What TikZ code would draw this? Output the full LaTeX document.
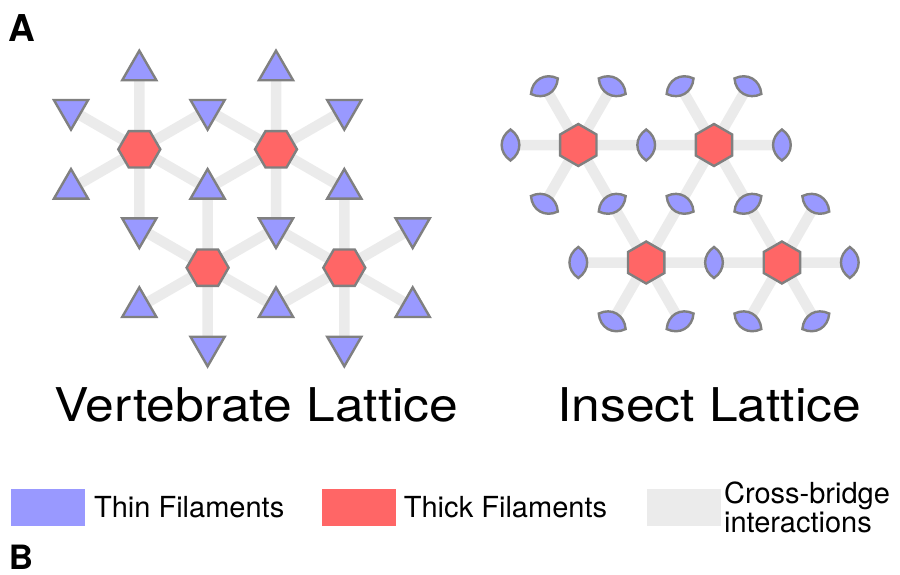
\documentclass[tikz,border=0pt]{standalone}
\usepackage{fontspec}
\setmainfont{TeX Gyre Heros}
\usepackage{graphicx}
\usepackage{tikz}
\usetikzlibrary{shapes.geometric, positioning, backgrounds}

\definecolor{thinblue}{HTML}{9999FF}
\definecolor{thickred}{HTML}{FF6666}
\definecolor{bridgegray}{HTML}{EBEBEB}
\definecolor{edgegray}{HTML}{808080}

\begin{document}
\begin{tikzpicture}[
    x=1pt, y=-1pt,
    thickfil/.style={regular polygon, regular polygon sides=6, draw=edgegray, fill=thickred, line width=2.4pt, minimum size=42pt, inner sep=0pt},
    thinup/.style={regular polygon, regular polygon sides=3, draw=edgegray, fill=thinblue, line width=2.4pt, minimum size=39.5pt, inner sep=0pt},
    thindown/.style={thinup, shape border rotate=180},
    bridge/.style={draw=bridgegray, line width=10.5pt},
    lens/.pic={\draw[draw=edgegray, fill=thinblue, line width=2.4pt] (0,-15.5) .. controls (11.8,-7.5) and (11.8,7.5) .. (0,15.5) .. controls (-11.8,7.5) and (-11.8,-7.5) .. (0,-15.5) -- cycle;},
    legbox/.style={minimum width=74pt, minimum height=36.7pt, inner sep=0pt},
    legtext/.style={inner sep=0pt, align=left, font=\fontsize{29}{28.4}\selectfont},
    title/.style={anchor=base, inner sep=0pt, font=\fontsize{46.5}{50}\selectfont},
    panel/.style={anchor=base west, inner sep=0pt}
]
    \useasboundingbox (0,0) rectangle (900,574);

    % Lettres des panneaux
    \node[panel, font=\fontsize{37}{40}\bfseries] (panela) at (8,41.7) {A};
    \node[panel, font=\fontsize{33.5}{36}\bfseries] (panelb) at (8.6,569.5) {B};

    % Réseau vertébré : filaments épais
    \node[thickfil] (vthick1) at (139.3,149.3) {};
    \node[thickfil] (vthick2) at (276.0,149.3) {};
    \node[thickfil] (vthick3) at (207.6,267.7) {};
    \node[thickfil] (vthick4) at (344.3,267.7) {};

    % Réseau vertébré : filaments fins
    \node[thinup]   (vthin1)  at (139.3,70.4) {};
    \node[thinup]   (vthin2)  at (276.0,70.4) {};
    \node[thindown] (vthin3)  at (71.0,109.9) {};
    \node[thindown] (vthin4)  at (207.6,109.9) {};
    \node[thindown] (vthin5)  at (344.3,109.9) {};
    \node[thinup]   (vthin6)  at (71.0,188.8) {};
    \node[thinup]   (vthin7)  at (207.6,188.8) {};
    \node[thinup]   (vthin8)  at (344.3,188.8) {};
    \node[thindown] (vthin9)  at (139.3,228.2) {};
    \node[thindown] (vthin10) at (276.0,228.2) {};
    \node[thindown] (vthin11) at (412.7,228.2) {};
    \node[thinup]   (vthin12) at (139.3,307.1) {};
    \node[thinup]   (vthin13) at (276.0,307.1) {};
    \node[thinup]   (vthin14) at (412.7,307.1) {};
    \node[thindown] (vthin15) at (207.6,346.6) {};
    \node[thindown] (vthin16) at (344.3,346.6) {};

    % Réseau vertébré : ponts
    \begin{scope}[on background layer]
        \draw[bridge] (vthick1.center) -- (vthin1.center) (vthick1.center) -- (vthin4.center) (vthick1.center) -- (vthin7.center)
                      (vthick1.center) -- (vthin9.center) (vthick1.center) -- (vthin6.center) (vthick1.center) -- (vthin3.center);
        \draw[bridge] (vthick2.center) -- (vthin2.center) (vthick2.center) -- (vthin5.center) (vthick2.center) -- (vthin8.center)
                      (vthick2.center) -- (vthin10.center) (vthick2.center) -- (vthin7.center) (vthick2.center) -- (vthin4.center);
        \draw[bridge] (vthick3.center) -- (vthin7.center) (vthick3.center) -- (vthin10.center) (vthick3.center) -- (vthin13.center)
                      (vthick3.center) -- (vthin15.center) (vthick3.center) -- (vthin12.center) (vthick3.center) -- (vthin9.center);
        \draw[bridge] (vthick4.center) -- (vthin8.center) (vthick4.center) -- (vthin11.center) (vthick4.center) -- (vthin14.center)
                      (vthick4.center) -- (vthin16.center) (vthick4.center) -- (vthin13.center) (vthick4.center) -- (vthin10.center);
    \end{scope}

    % Réseau insecte : filaments épais
    \node[thickfil, shape border rotate=30] (ithick1) at (578.3,145.0) {};
    \node[thickfil, shape border rotate=30] (ithick2) at (714.0,145.0) {};
    \node[thickfil, shape border rotate=30] (ithick3) at (646.2,262.5) {};
    \node[thickfil, shape border rotate=30] (ithick4) at (781.9,262.5) {};

    % Réseau insecte : positions des filaments fins
    \coordinate (ithin1)  at (544.4,86.2);
    \coordinate (ithin2)  at (612.2,86.2);
    \coordinate (ithin3)  at (680.1,86.2);
    \coordinate (ithin4)  at (747.9,86.2);
    \coordinate (ithin5)  at (510.5,145.0);
    \coordinate (ithin6)  at (646.2,145.0);
    \coordinate (ithin7)  at (781.9,145.0);
    \coordinate (ithin8)  at (544.4,203.8);
    \coordinate (ithin9)  at (612.2,203.8);
    \coordinate (ithin10) at (680.1,203.8);
    \coordinate (ithin11) at (747.9,203.8);
    \coordinate (ithin12) at (815.8,203.8);
    \coordinate (ithin13) at (578.3,262.5);
    \coordinate (ithin14) at (714.0,262.5);
    \coordinate (ithin15) at (849.8,262.5);
    \coordinate (ithin16) at (612.2,321.3);
    \coordinate (ithin17) at (680.1,321.3);
    \coordinate (ithin18) at (747.9,321.3);
    \coordinate (ithin19) at (815.8,321.3);

    % Réseau insecte : ponts
    \begin{scope}[on background layer]
        \draw[bridge] (ithick1.center) -- (ithin1) (ithick1.center) -- (ithin2) (ithick1.center) -- (ithin5)
                      (ithick1.center) -- (ithin6) (ithick1.center) -- (ithin8) (ithick1.center) -- (ithin9);
        \draw[bridge] (ithick2.center) -- (ithin3) (ithick2.center) -- (ithin4) (ithick2.center) -- (ithin6)
                      (ithick2.center) -- (ithin7) (ithick2.center) -- (ithin10) (ithick2.center) -- (ithin11);
        \draw[bridge] (ithick3.center) -- (ithin9) (ithick3.center) -- (ithin10) (ithick3.center) -- (ithin13)
                      (ithick3.center) -- (ithin14) (ithick3.center) -- (ithin16) (ithick3.center) -- (ithin17);
        \draw[bridge] (ithick4.center) -- (ithin11) (ithick4.center) -- (ithin12) (ithick4.center) -- (ithin14)
                      (ithick4.center) -- (ithin15) (ithick4.center) -- (ithin18) (ithick4.center) -- (ithin19);
    \end{scope}

    % Réseau insecte : filaments fins
    \pic[rotate=-60] at (ithin1) {lens};
    \pic[rotate=60]  at (ithin2) {lens};
    \pic[rotate=-60] at (ithin3) {lens};
    \pic[rotate=60]  at (ithin4) {lens};
    \pic at (ithin5) {lens};
    \pic at (ithin6) {lens};
    \pic at (ithin7) {lens};
    \pic[rotate=60]  at (ithin8) {lens};
    \pic[rotate=-60] at (ithin9) {lens};
    \pic[rotate=60]  at (ithin10) {lens};
    \pic[rotate=-60] at (ithin11) {lens};
    \pic[rotate=60]  at (ithin12) {lens};
    \pic at (ithin13) {lens};
    \pic at (ithin14) {lens};
    \pic at (ithin15) {lens};
    \pic[rotate=60]  at (ithin16) {lens};
    \pic[rotate=-60] at (ithin17) {lens};
    \pic[rotate=60]  at (ithin18) {lens};
    \pic[rotate=-60] at (ithin19) {lens};

    % Titres
    \node[title] (vtitle) at (256.3,421.7) {\scalebox{1.11}[1]{Vertebrate Lattice}};
    \node[title] (ititle) at (709.2,421.7) {\scalebox{1.11}[1]{Insect Lattice}};

    % Légende
    \node[legbox, fill=thinblue] (legthin) at (48.0,507.3) {};
    \node[legtext, right=8.7pt of legthin] (legthintxt) {Thin Filaments};
    \node[legbox, fill=thickred] (legthick) at (359.0,507.3) {};
    \node[legtext, right=7.5pt of legthick] (legthicktxt) {Thick Filaments};
    \node[legbox, fill=bridgegray] (legbridge) at (683.7,507.3) {};
    \node[legtext, right=3pt of legbridge] (legbridgetxt) {Cross-bridge\\interactions};

\end{tikzpicture}
\end{document}
